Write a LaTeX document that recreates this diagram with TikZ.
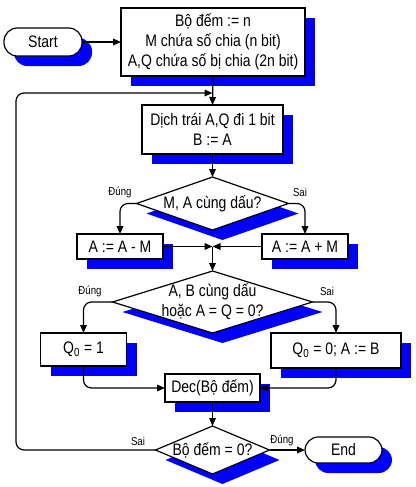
\documentclass[tikz,border=0pt]{standalone}
\usepackage{fontspec}
\setmainfont[FakeStretch=0.84]{Liberation Sans}
\usetikzlibrary{shadows,shapes.geometric,arrows.meta}
\begin{document}
\begin{tikzpicture}[x=0.75pt,y=-0.75pt,
  every node/.style={inner sep=0pt, outer sep=0pt},
  shadowed/.style={drop shadow={shadow xshift=7.5pt, shadow yshift=-7.5pt, fill=blue, opacity=1}},
  txt/.style={font=\fontsize{12.5pt}{15pt}\selectfont, align=center},
  small/.style={font=\fontsize{8.6pt}{10pt}\selectfont},
  box/.style={draw, fill=white, line width=0.9pt, shadowed, txt},
  term/.style={box, rounded corners=10pt},
  dia/.style={draw, fill=white, line width=0.9pt, shadowed, diamond},
  conn/.style={line width=0.9pt, -{Triangle[length=6pt,width=5pt]}, rounded corners=6pt}
]
\useasboundingbox (0,0) rectangle (416,487);

\node[term, minimum width=58.5pt, minimum height=21pt] (start) at (43,42) {Start};
\node[box, minimum width=138pt, minimum height=51pt] (init) at (213,42)
  {Bộ đếm := n\\M chứa số chia (n bit)\\A,Q chứa số bị chia (2n bit)};
\node[box, minimum width=105.75pt, minimum height=36.75pt] (shift) at (212.5,129.5)
  {Dịch trái A,Q đi 1 bit\\B := A};
\node[dia, minimum width=114pt, minimum height=39.75pt] (d1) at (212.5,203.5) {};
\node[txt] (d1t) at (212.5,203.5) {M, A cùng dấu?};
\node[box, minimum width=64.5pt, minimum height=18.75pt] (amm) at (120,246.5) {A := A - M};
\node[box, minimum width=64.5pt, minimum height=18.75pt] (apm) at (305,246.5) {A := A + M};
\coordinate (j1) at (212.5,246.5);
\node[dia, minimum width=150pt, minimum height=46.5pt] (d2) at (212.5,302) {};
\node[txt] (d2t) at (212.5,302) {A, B cùng dấu\\hoặc A = Q = 0?};
\node[box, minimum width=64.5pt, minimum height=24.75pt] (q1) at (83.5,349.5) {Q\textsubscript{0} = 1};
\node[box, minimum width=97.5pt, minimum height=26.25pt] (q0) at (336,350.5) {Q\textsubscript{0} = 0; A := B};
\node[box, minimum width=71.25pt, minimum height=21pt] (dec) at (212.5,388) {Dec(Bộ đếm)};
\node[dia, minimum width=85.5pt, minimum height=36pt] (d3) at (212.5,450) {};
\node[txt] (d3t) at (212.5,450) {Bộ đếm = 0?};
\node[term, minimum width=57.75pt, minimum height=19.5pt] (end) at (343.5,450) {End};

\coordinate (loopin) at (212.5,93);
\coordinate (loopl) at (16,450);
\coordinate (loopt) at (16,93);

\draw[conn] (start) -- (init);
\draw[conn] (init.south) -- (shift.north);
\draw[conn] (d3.west) -- (loopl) -- (loopt) -- (loopin);
\draw[conn] (shift.south) -- (d1.north);
\draw[conn] (d1.west) -| (amm.north);
\draw[conn] (d1.east) -| (apm.north);
\draw[conn] (amm.east) -- (j1);
\draw[conn] (apm.west) -- (j1);
\draw[conn] (j1) -- (d2.north);
\draw[conn] (d2.west) -| (q1.north);
\draw[conn] (d2.east) -| (q0.north);
\draw[conn] (q1.south) |- (dec.west);
\draw[conn] (q0.south) |- (dec.east);
\draw[conn] (dec.south) -- (d3.north);
\draw[conn] (d3.east) -- (end.west);

\node[small] (l1) at (120,192) {Đúng};
\node[small] (l2) at (300,192) {Sai};
\node[small] (l3) at (90,291) {Đúng};
\node[small] (l4) at (327,291) {Sai};
\node[small] (l5) at (138,441) {Sai};
\node[small] (l6) at (282,440) {Đúng};
\end{tikzpicture}
\end{document}
